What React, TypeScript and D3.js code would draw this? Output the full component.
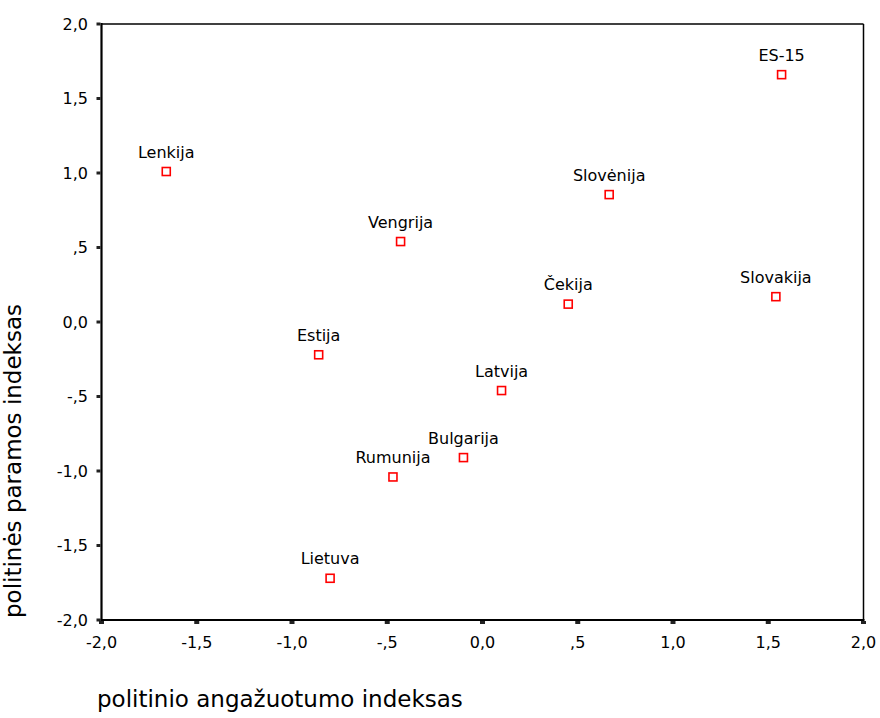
import React from "react";
import * as d3 from "d3";

const countries = ["ES-15", "Lenkija", "Slovėnija", "Vengrija", "Čekija", "Slovakija", "Estija", "Latvija", "Bulgarija", "Rumunija", "Lietuva"];
const xValues = [1.57, -1.66, 0.665, -0.43, 0.45, 1.54, -0.86, 0.1, -0.1, -0.47, -0.8];
const yValues = [1.66, 1.01, 0.855, 0.54, 0.12, 0.17, -0.22, -0.46, -0.91, -1.04, -1.72];
const tickValues = [-2, -1.5, -1, -0.5, 0, 0.5, 1, 1.5, 2];
const tickLabels = ["-2,0", "-1,5", "-1,0", "-,5", "0,0", ",5", "1,0", "1,5", "2,0"];
const xTitle = "politinio angažuotumo indeksas";
const yTitle = "politinės paramos indeksas";

const W = 880;
const H = 718;
const left = 101.5;
const right = 863.5;
const top = 24;
const bottom = 620;
const font = "'DejaVu Sans', Verdana, sans-serif";

export default function App() {
  const x = d3.scaleLinear().domain([-2, 2]).range([left, right]);
  const y = d3.scaleLinear().domain([-2, 2]).range([bottom, top]);
  return (
    <svg width={W} height={H} style={{ position: "absolute", left: 0, top: 0, background: "#fff" }} fontFamily={font}>
      {/* frame */}
      <line x1={left} y1={top} x2={right} y2={top} stroke="#000" strokeWidth={1.5} />
      <line x1={right} y1={top} x2={right} y2={bottom} stroke="#000" strokeWidth={1.5} />
      <line x1={left} y1={top - 1} x2={left} y2={bottom + 1} stroke="#000" strokeWidth={2.2} />
      <line x1={left - 1} y1={bottom} x2={right + 1} y2={bottom} stroke="#000" strokeWidth={2.2} />
      {/* x ticks */}
      {tickValues.map((v, i) => (
        <g key={"xt" + i}>
          <rect x={x(v) - 2.5} y={bottom + 1} width={5} height={3} fill="#222" />
          <text x={x(v)} y={648} textAnchor="middle" fontSize={16} fill="#000">{tickLabels[i]}</text>
        </g>
      ))}
      {/* y ticks */}
      {tickValues.map((v, i) => (
        <g key={"yt" + i}>
          <rect x={left - 5} y={y(v) - 1.5} width={4} height={3} fill="#222" />
          <text x={88} y={y(v)} dy="0.35em" textAnchor="end" fontSize={16} fill="#000">{tickLabels[i]}</text>
        </g>
      ))}
      {/* points */}
      {countries.map((c, i) => (
        <g key={c}>
          <rect x={x(xValues[i]) - 4} y={y(yValues[i]) - 4} width={8} height={8} fill="none" stroke="#ff0000" strokeWidth={1.6} />
          <text x={x(xValues[i])} y={y(yValues[i]) - 14} textAnchor="middle" fontSize={16} fill="#000">{c}</text>
        </g>
      ))}
      {/* titles */}
      <text x={97} y={707} fontSize={23} fill="#000">{xTitle}</text>
      <text transform={`translate(20.5,461) rotate(-90)`} textAnchor="middle" fontSize={23} fill="#000">{yTitle}</text>
    </svg>
  );
}
